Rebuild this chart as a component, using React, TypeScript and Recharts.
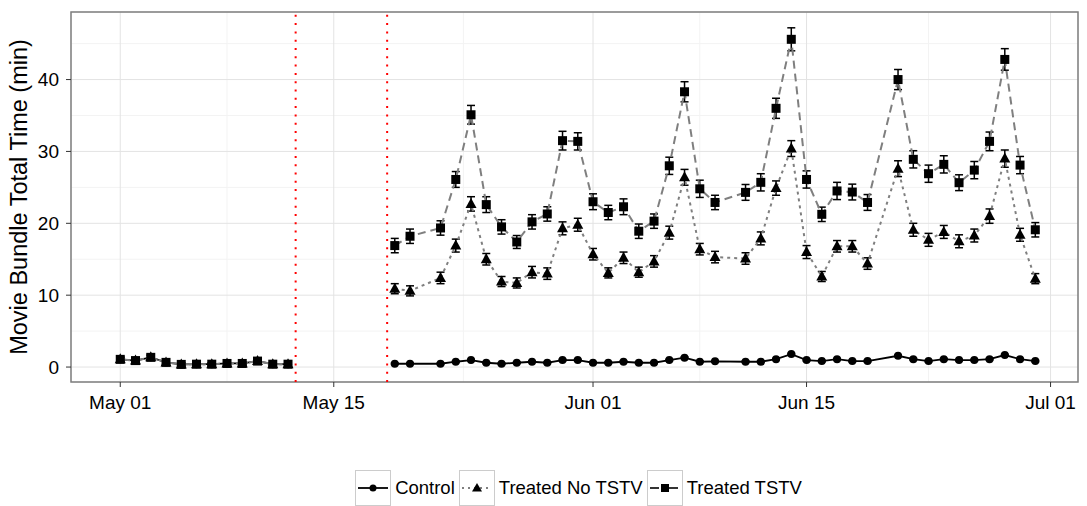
import { LineChart, Line, XAxis, YAxis, CartesianGrid, ReferenceLine, ReferenceArea, ErrorBar } from 'recharts';

// ─── Data ────────────────────────────────────────────────────────────────────
const preDates = ['05-01', '05-02', '05-03', '05-04', '05-05', '05-06', '05-07', '05-08', '05-09', '05-10', '05-11', '05-12'];
const preValues = [1.07, 0.9, 1.35, 0.65, 0.37, 0.4, 0.4, 0.5, 0.5, 0.83, 0.4, 0.4];
const preErr = [0.3, 0.3, 0.3, 0.25, 0.2, 0.2, 0.2, 0.2, 0.2, 0.25, 0.2, 0.2];

const postDates = [
  '05-19', '05-20', '05-22', '05-23', '05-24', '05-25', '05-26', '05-27', '05-28', '05-29',
  '05-30', '05-31', '06-01', '06-02', '06-03', '06-04', '06-05', '06-06', '06-07', '06-08',
  '06-09', '06-11', '06-12', '06-13', '06-14', '06-15', '06-16', '06-17', '06-18', '06-19',
  '06-21', '06-22', '06-23', '06-24', '06-25', '06-26', '06-27', '06-28', '06-29', '06-30',
];
const control = [
  0.46, 0.46, 0.46, 0.74, 0.97, 0.6, 0.46, 0.6, 0.74, 0.6,
  0.97, 0.97, 0.6, 0.6, 0.74, 0.6, 0.6, 0.97, 1.3, 0.74,
  0.8, 0.74, 0.74, 1.1, 1.8, 0.97, 0.83, 1.1, 0.83, 0.83,
  1.57, 1.1, 0.83, 1.1, 0.97, 0.97, 1.1, 1.67, 1.1, 0.83,
];
const noTstv = [
  10.9, 10.6, 12.4, 16.9, 22.7, 15.0, 11.9, 11.7, 13.2, 13.0,
  19.3, 19.8, 15.7, 13.1, 15.2, 13.2, 14.7, 18.7, 26.4, 16.4,
  15.3, 15.1, 17.9, 24.9, 30.4, 16.0, 12.6, 16.8, 16.8, 14.4,
  27.6, 19.1, 17.7, 18.8, 17.5, 18.3, 21.0, 29.0, 18.4, 12.3,
];
const noTstvErr = [
  0.7, 0.7, 0.8, 0.9, 1.0, 0.8, 0.7, 0.7, 0.8, 0.8,
  0.9, 0.9, 0.8, 0.7, 0.8, 0.7, 0.8, 0.9, 1.1, 0.8,
  0.8, 0.8, 0.9, 1.0, 1.1, 0.9, 0.7, 0.8, 0.8, 0.8,
  1.1, 0.9, 0.9, 0.9, 0.9, 0.9, 1.0, 1.2, 0.9, 0.7,
];
const tstv = [
  16.9, 18.2, 19.35, 26.1, 35.1, 22.6, 19.5, 17.4, 20.2, 21.3,
  31.5, 31.4, 23.0, 21.5, 22.3, 18.9, 20.3, 28.0, 38.3, 24.8,
  22.9, 24.3, 25.7, 36.0, 45.6, 26.1, 21.25, 24.5, 24.35, 22.9,
  40.0, 28.9, 26.9, 28.2, 25.65, 27.4, 31.4, 42.8, 28.1, 19.1,
];
const tstvErr = [
  1.0, 1.0, 1.0, 1.1, 1.3, 1.1, 1.0, 0.9, 1.0, 1.0,
  1.3, 1.2, 1.1, 1.0, 1.1, 1.0, 1.0, 1.2, 1.4, 1.2,
  1.0, 1.1, 1.2, 1.4, 1.6, 1.2, 1.0, 1.2, 1.1, 1.1,
  1.4, 1.2, 1.2, 1.2, 1.1, 1.2, 1.3, 1.5, 1.2, 1.0,
];
const controlErr = 0.1;

const tickDates = ['05-01', '05-15', '06-01', '06-15', '07-01'];
const tickLabels = ['May 01', 'May 15', 'Jun 01', 'Jun 15', 'Jul 01'];
const interventionDates = ['05-12', '05-18']; // dotted red lines sit half a day after these
const yTicks = [0, 10, 20, 30, 40];

// ─── Helpers ─────────────────────────────────────────────────────────────────
const dayOf = (s: string) => {
  const [m, d] = s.split('-').map(Number);
  return (Date.UTC(2015, m - 1, d) - Date.UTC(2015, 4, 1)) / 86400000;
};

const rows: Array<Record<string, number | null>> = [
  ...preDates.map((d, i) => ({
    day: dayOf(d),
    control: preValues[i], controlErr: preErr[i],
    noTstv: preValues[i], noTstvErr: preErr[i],
    tstv: preValues[i], tstvErr: preErr[i],
  })),
  // break between the two periods so lines are not joined
  { day: (dayOf(preDates[preDates.length - 1]) + dayOf(postDates[0])) / 2, control: null, noTstv: null, tstv: null },
  ...postDates.map((d, i) => ({
    day: dayOf(d),
    control: control[i], controlErr,
    noTstv: noTstv[i], noTstvErr: noTstvErr[i],
    tstv: tstv[i], tstvErr: tstvErr[i],
  })),
];

const X_DOMAIN: [number, number] = [-3.23, 62.8];
const Y_DOMAIN: [number, number] = [-2.08, 49.4];
const FONT = '"Liberation Sans", Arial, Helvetica, sans-serif';
const GREY = '#7f7f7f';

// ─── Markers ─────────────────────────────────────────────────────────────────
const CircleDot = (p: any) => {
  if (p.cx == null || p.cy == null || p.value == null) return <g key={`c-${p.index}`} />;
  return <circle key={`c-${p.index}`} cx={p.cx} cy={p.cy} r={4} fill="#000" />;
};
const TriangleDot = (p: any) => {
  if (p.cx == null || p.cy == null || p.value == null) return <g key={`t-${p.index}`} />;
  const { cx, cy } = p;
  return <polygon key={`t-${p.index}`} points={`${cx},${cy - 6} ${cx - 5.5},${cy + 4} ${cx + 5.5},${cy + 4}`} fill="#000" />;
};
const SquareDot = (p: any) => {
  if (p.cx == null || p.cy == null || p.value == null) return <g key={`s-${p.index}`} />;
  return <rect key={`s-${p.index}`} x={p.cx - 4.5} y={p.cy - 4.5} width={9} height={9} fill="#000" />;
};

// ─── Legend ──────────────────────────────────────────────────────────────────
const LegendKey = ({ kind }: { kind: 'circle' | 'triangle' | 'square' }) => (
  <svg width={36} height={36} style={{ display: 'block' }}>
    <rect x={0.5} y={0.5} width={35} height={35} fill="#fff" stroke="#cccccc" />
    {kind === 'circle' && (
      <>
        <line x1={3} x2={33} y1={18} y2={18} stroke="#000" strokeWidth={1.8} />
        <circle cx={18} cy={18} r={3.5} fill="#000" />
      </>
    )}
    {kind === 'triangle' && (
      <>
        <line x1={3} x2={33} y1={18} y2={18} stroke={GREY} strokeWidth={1.8} strokeDasharray="2 4" />
        <polygon points="18,13 13,21.5 23,21.5" fill="#000" />
      </>
    )}
    {kind === 'square' && (
      <>
        <line x1={3} x2={33} y1={18} y2={18} stroke="#333" strokeWidth={1.8} strokeDasharray="9 4 2 4" />
        <rect x={14} y={14} width={8} height={8} fill="#000" />
      </>
    )}
  </svg>
);

const legendItems: Array<{ label: string; kind: 'circle' | 'triangle' | 'square' }> = [
  { label: 'Control', kind: 'circle' },
  { label: 'Treated No TSTV', kind: 'triangle' },
  { label: 'Treated TSTV', kind: 'square' },
];

export default function App() {
  return (
    <div style={{ position: 'absolute', left: 0, top: 0, width: 1087, height: 506, background: '#fff', fontFamily: FONT }}>
      <LineChart width={1087} height={506} data={rows} margin={{ top: 12, right: 9, bottom: 94, left: 0 }}>
        <CartesianGrid
          horizontalValues={[5, 15, 25, 35, 45]}
          verticalValues={[7, 22.5, 38, 53]}
          stroke="#f3f3f3"
          strokeWidth={1}
        />
        <CartesianGrid stroke="#e3e3e3" strokeWidth={1} />
        <XAxis
          type="number"
          dataKey="day"
          domain={X_DOMAIN}
          allowDataOverflow
          ticks={tickDates.map(dayOf)}
          tickFormatter={(v: number) => tickLabels[tickDates.map(dayOf).indexOf(v)] ?? ''}
          tick={{ fill: '#000', fontSize: 19, fontFamily: FONT }}
          tickLine={{ stroke: '#333' }}
          tickSize={5}
          tickMargin={9}
          axisLine={false}
          height={30}
        />
        <YAxis
          type="number"
          domain={Y_DOMAIN}
          allowDataOverflow
          ticks={yTicks}
          tick={{ fill: '#000', fontSize: 19, fontFamily: FONT }}
          tickLine={{ stroke: '#333' }}
          tickSize={5}
          tickMargin={7}
          axisLine={false}
          width={71}
          label={{
            value: 'Movie Bundle Total Time (min)',
            angle: -90,
            position: 'insideLeft',
            offset: 19,
            style: { textAnchor: 'middle', fill: '#000', fontSize: 23.5, fontFamily: FONT },
          }}
        />
        {interventionDates.map((d) => (
          <ReferenceLine
            key={d}
            x={dayOf(d) + 0.5}
            stroke="#ff0000"
            strokeWidth={2}
            strokeDasharray="2 6.3"
          />
        ))}
        <Line
          dataKey="control"
          stroke="#000"
          strokeWidth={1.8}
          dot={CircleDot}
          activeDot={false}
          isAnimationActive={false}
        >
          <ErrorBar dataKey="controlErr" direction="y" width={4} stroke="#000" strokeWidth={1.5} />
        </Line>
        <Line
          dataKey="noTstv"
          stroke={GREY}
          strokeWidth={2}
          strokeDasharray="3 4"
          dot={TriangleDot}
          activeDot={false}
          isAnimationActive={false}
        >
          <ErrorBar dataKey="noTstvErr" direction="y" width={4} stroke="#000" strokeWidth={1.5} />
        </Line>
        <Line
          dataKey="tstv"
          stroke={GREY}
          strokeWidth={2}
          strokeDasharray="8 5"
          dot={SquareDot}
          activeDot={false}
          isAnimationActive={false}
        >
          <ErrorBar dataKey="tstvErr" direction="y" width={4} stroke="#000" strokeWidth={1.5} />
        </Line>
        <ReferenceArea
          x1={X_DOMAIN[0]}
          x2={X_DOMAIN[1]}
          y1={Y_DOMAIN[0]}
          y2={Y_DOMAIN[1]}
          fill="none"
          stroke={GREY}
          strokeWidth={1.5}
          ifOverflow="visible"
        />
      </LineChart>
      <div
        style={{
          position: 'absolute', left: 0, right: 0, top: 470, display: 'flex',
          justifyContent: 'center', alignItems: 'center', fontSize: 18.5, color: '#000',
          paddingLeft: 74,
        }}
      >
        {legendItems.map((it) => (
          <div key={it.label} style={{ display: 'flex', alignItems: 'center', marginRight: 4 }}>
            <LegendKey kind={it.kind} />
            <span style={{ marginLeft: 4 }}>{it.label}</span>
          </div>
        ))}
      </div>
    </div>
  );
}
